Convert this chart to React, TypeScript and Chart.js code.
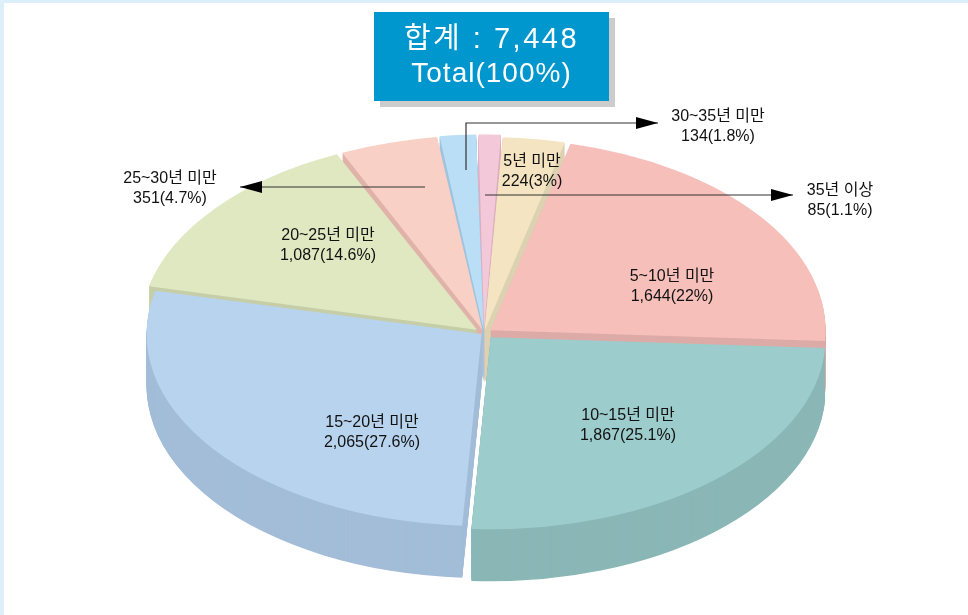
import React, { useEffect, useRef } from 'react';
import { Chart, registerables } from 'chart.js';

Chart.register(...registerables);

// ---- data ----
const categories = ['5년 미만', '5~10년 미만', '10~15년 미만', '15~20년 미만', '20~25년 미만', '25~30년 미만', '30~35년 미만', '35년 이상'];
const counts = [224, 1644, 1867, 2065, 1087, 351, 134, 85];
const percents = ['3%', '22%', '25.1%', '27.6%', '14.6%', '4.7%', '1.8%', '1.1%'];
const totalText = '7,448';

// ---- style ----
const topColors = ['#F4E4C2', '#F6BFBA', '#9CCCCB', '#B8D3EE', '#DFE8C1', '#F9D0C5', '#B9DEF5', '#F3C8D8'];
const sideColors = ['#DCD2B1', '#DDABA7', '#8AB7B6', '#A3BDD8', '#C6CEA8', '#E0B3AA', '#9FC4DF', '#DDB0C0'];
const explode = [16, 32, 40, 12, 36, 24, 24, 24];
const RADIUS = 335;
const TILT = 0.573;
const DEPTH = 52;
const ROTATION = 3;
const FONT = "16px 'Liberation Sans', 'Noto Sans CJK KR', Arial, sans-serif";

// label anchors, px relative to pie centre
const innerLabels = [
  { i: 0, dx: 48, dy: -161 },
  { i: 1, dx: 188, dy: -46 },
  { i: 2, dx: 144, dy: 93 },
  { i: 3, dx: -112, dy: 100 },
  { i: 4, dx: -156, dy: -87 },
];
const outerLabels = [
  { i: 5, dx: -314, dy: -144, path: [[-59, -146], [-244, -146]] },
  { i: 6, dx: 234, dy: -206, path: [[-18, -163], [-18, -210], [174, -210]] },
  { i: 7, dx: 356, dy: -132, path: [[1, -138], [309, -138]] },
];

const fmt = (n: number) => n.toLocaleString('en-US');

export default function App() {
  const ref = useRef<HTMLCanvasElement>(null);

  useEffect(() => {
    const canvas = ref.current;
    if (!canvas) return;

    const tilt = (ctx: CanvasRenderingContext2D, cx: number, cy: number) => {
      ctx.translate(cx, cy);
      ctx.scale(1, TILT);
      ctx.translate(-cx, -cy);
    };

    const pie3d = {
      id: 'pie3d',
      beforeDatasetsDraw(chart: any) {
        const meta = chart.getDatasetMeta(0);
        const ctx: CanvasRenderingContext2D = chart.ctx;
        const cx = meta.data[0].x;
        const cy = meta.data[0].y;
        for (let d = DEPTH; d >= 1; d--) {
          ctx.save();
          ctx.translate(0, d);
          tilt(ctx, cx, cy);
          meta.data.forEach((arc: any, i: number) => {
            const el = Object.create(arc);
            el.options = Object.assign({}, arc.options, { backgroundColor: sideColors[i], borderWidth: 0 });
            el.draw(ctx);
          });
          ctx.restore();
        }
        ctx.save();
        tilt(ctx, cx, cy);
      },
      afterDatasetsDraw(chart: any) {
        chart.ctx.restore();
      },
      afterDraw(chart: any) {
        const meta = chart.getDatasetMeta(0);
        const ctx: CanvasRenderingContext2D = chart.ctx;
        const cx = meta.data[0].x;
        const cy = meta.data[0].y;
        ctx.save();
        ctx.font = FONT;
        ctx.textAlign = 'center';
        ctx.textBaseline = 'middle';
        innerLabels.forEach(({ i, dx, dy }) => {
          ctx.fillStyle = '#111';
          ctx.fillText(categories[i], cx + dx, cy + dy - 10);
          ctx.fillText(`${fmt(counts[i])}(${percents[i]})`, cx + dx, cy + dy + 10);
        });
        outerLabels.forEach(({ i, dx, dy, path }) => {
          ctx.fillStyle = '#111';
          ctx.fillText(categories[i], cx + dx, cy + dy - 10);
          ctx.fillText(`${fmt(counts[i])}(${percents[i]})`, cx + dx, cy + dy + 10);
          ctx.strokeStyle = '#333';
          ctx.lineWidth = 1.2;
          ctx.beginPath();
          path.forEach(([px, py], k) => {
            if (k === 0) ctx.moveTo(cx + px, cy + py);
            else ctx.lineTo(cx + px, cy + py);
          });
          ctx.stroke();
          const [tx, ty] = path[path.length - 1];
          const [sx, sy] = path[path.length - 2];
          const ang = Math.atan2(ty - sy, tx - sx);
          const len = 22;
          const hw = 6;
          const bx = cx + tx - Math.cos(ang) * len;
          const by = cy + ty - Math.sin(ang) * len;
          ctx.fillStyle = '#000';
          ctx.beginPath();
          ctx.moveTo(cx + tx, cy + ty);
          ctx.lineTo(bx - Math.sin(ang) * hw, by + Math.cos(ang) * hw);
          ctx.lineTo(bx + Math.sin(ang) * hw, by - Math.cos(ang) * hw);
          ctx.closePath();
          ctx.fill();
        });
        ctx.restore();
      },
    };

    const chart = new Chart(canvas, {
      type: 'pie',
      data: {
        labels: categories,
        datasets: [
          {
            data: counts,
            backgroundColor: topColors,
            borderWidth: 0,
            offset: explode,
            hoverOffset: 0,
            radius: RADIUS,
            clip: false,
          } as any,
        ],
      },
      options: {
        animation: false,
        responsive: false,
        events: [],
        radius: RADIUS,
        rotation: ROTATION,
        layout: { padding: { top: 51, left: 0, right: 0, bottom: 0 } },
        plugins: {
          legend: { display: false },
          tooltip: { enabled: false },
          title: { display: false },
        },
      } as any,
      plugins: [pie3d],
    });
    return () => chart.destroy();
  }, []);

  return (
    <div
      style={{
        position: 'fixed',
        left: 0,
        top: 0,
        width: 968,
        height: 615,
        background: '#ffffff',
        boxSizing: 'border-box',
        borderLeft: '4px solid #DDEFFB',
        borderTop: '3px solid #DDEFFB',
        overflow: 'hidden',
      }}
    >
      <canvas ref={ref} width={968} height={615} style={{ position: 'absolute', left: -4, top: -3, width: 968, height: 615 }} />
      <div
        style={{
          position: 'absolute',
          left: 370,
          top: 9,
          width: 235,
          height: 89,
          background: '#0096CE',
          boxShadow: '6px 6px 0 #CCCCCC',
          color: '#ffffff',
          fontFamily: "'Liberation Sans', 'Noto Sans CJK KR', Arial, sans-serif",
          textAlign: 'center',
        }}
      >
        <div style={{ position: 'absolute', left: 0, right: 0, top: 9, fontSize: 29, lineHeight: '34px', letterSpacing: 2.5 }}>
          합계 : {totalText}
        </div>
        <div style={{ position: 'absolute', left: 0, right: 0, top: 44, fontSize: 28, lineHeight: '34px', letterSpacing: 1 }}>
          Total(100%)
        </div>
      </div>
    </div>
  );
}
